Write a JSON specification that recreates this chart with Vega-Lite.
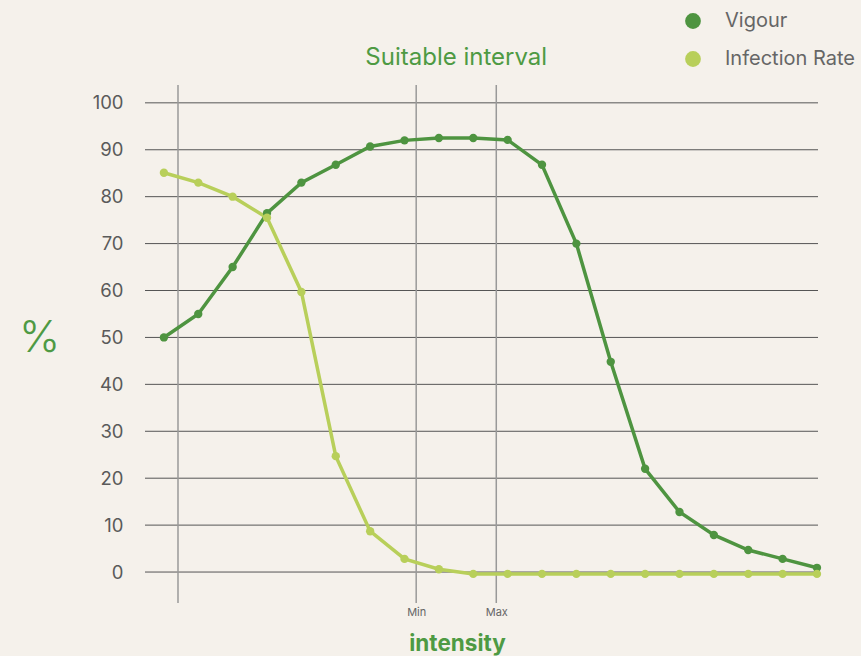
{
  "$schema": "https://vega.github.io/schema/vega-lite/v6.json",
  "autosize": "none",
  "width": 673,
  "height": 518,
  "padding": {"left": 145, "top": 85, "right": 43, "bottom": 53},
  "background": "#f5f1eb",
  "config": {"view": {"stroke": null}, "font": "Inter"},
  "datasets": {
    "series": [
      {"i": 0, "s": "Vigour", "v": 50}, {"i": 1, "s": "Vigour", "v": 55}, {"i": 2, "s": "Vigour", "v": 65},
      {"i": 3, "s": "Vigour", "v": 76.5}, {"i": 4, "s": "Vigour", "v": 83}, {"i": 5, "s": "Vigour", "v": 86.8},
      {"i": 6, "s": "Vigour", "v": 90.7}, {"i": 7, "s": "Vigour", "v": 92}, {"i": 8, "s": "Vigour", "v": 92.5},
      {"i": 9, "s": "Vigour", "v": 92.5}, {"i": 10, "s": "Vigour", "v": 92.1}, {"i": 11, "s": "Vigour", "v": 86.8},
      {"i": 12, "s": "Vigour", "v": 70}, {"i": 13, "s": "Vigour", "v": 44.8}, {"i": 14, "s": "Vigour", "v": 22},
      {"i": 15, "s": "Vigour", "v": 12.8}, {"i": 16, "s": "Vigour", "v": 7.9}, {"i": 17, "s": "Vigour", "v": 4.7},
      {"i": 18, "s": "Vigour", "v": 2.8}, {"i": 19, "s": "Vigour", "v": 0.9},
      {"i": 0, "s": "Infection Rate", "v": 85.1}, {"i": 1, "s": "Infection Rate", "v": 83}, {"i": 2, "s": "Infection Rate", "v": 80},
      {"i": 3, "s": "Infection Rate", "v": 75.5}, {"i": 4, "s": "Infection Rate", "v": 59.7}, {"i": 5, "s": "Infection Rate", "v": 24.7},
      {"i": 6, "s": "Infection Rate", "v": 8.7}, {"i": 7, "s": "Infection Rate", "v": 2.8}, {"i": 8, "s": "Infection Rate", "v": 0.6},
      {"i": 9, "s": "Infection Rate", "v": -0.4}, {"i": 10, "s": "Infection Rate", "v": -0.4}, {"i": 11, "s": "Infection Rate", "v": -0.4},
      {"i": 12, "s": "Infection Rate", "v": -0.4}, {"i": 13, "s": "Infection Rate", "v": -0.4}, {"i": 14, "s": "Infection Rate", "v": -0.4},
      {"i": 15, "s": "Infection Rate", "v": -0.4}, {"i": 16, "s": "Infection Rate", "v": -0.4}, {"i": 17, "s": "Infection Rate", "v": -0.4},
      {"i": 18, "s": "Infection Rate", "v": -0.4}, {"i": 19, "s": "Infection Rate", "v": -0.4}
    ],
    "hgrid": [{"y": 0}, {"y": 10}, {"y": 20}, {"y": 30}, {"y": 40}, {"y": 50}, {"y": 60}, {"y": 70}, {"y": 80}, {"y": 90}, {"y": 100}],
    "vlines": [{"x": 0.41}, {"x": 7.34}, {"x": 9.67}],
    "label": [{"x": 8.505, "y": 109.6, "t": "Suitable interval"}]
  },
  "layer": [
    {
      "data": {"name": "hgrid"},
      "mark": {"type": "rule", "color": "#555555", "strokeWidth": 1},
      "encoding": {
        "y": {"field": "y", "type": "quantitative", "scale": {"domain": [-6.6, 103.8], "nice": false, "zero": false},
          "axis": {"values": [0, 10, 20, 30, 40, 50, 60, 70, 80, 90, 100], "domain": false, "ticks": false, "grid": false, "labelPadding": 22, "labelFontSize": 18.5, "labelColor": "#5a5a5a", "labelFont": "Inter",
            "title": "%", "titleAngle": 0, "titleFontSize": 44, "titleFontWeight": 300, "titleColor": "#4e9a43", "titleFont": "Inter", "titleX": -106, "titleY": 253, "titleAlign": "center", "titleBaseline": "middle"}}
      }
    },
    {
      "data": {"name": "vlines"},
      "mark": {"type": "rule", "color": "#999999", "strokeWidth": 1.5},
      "encoding": {
        "x": {"field": "x", "type": "quantitative", "scale": {"domain": [-0.55, 19.03], "nice": false, "zero": false},
          "axis": {"values": [7.34, 9.67], "labelExpr": "datum.value < 8 ? 'Min' : 'Max'", "domain": false, "ticks": false, "grid": false, "labelPadding": 3, "labelFontSize": 11, "labelColor": "#666666", "labelFont": "Inter",
            "title": "intensity", "titleFontSize": 22.5, "titleFontWeight": "bold", "titleColor": "#4e9a43", "titleFont": "Inter", "titleX": 312, "titleY": 40, "titleBaseline": "middle", "titleAlign": "center"}}
      }
    },
    {
      "data": {"name": "label"},
      "mark": {"type": "text", "fontSize": 24, "color": "#4e9a43", "font": "Inter", "baseline": "middle", "align": "center", "clip": false},
      "encoding": {
        "x": {"field": "x", "type": "quantitative"},
        "y": {"field": "y", "type": "quantitative"},
        "text": {"field": "t"}
      }
    },
    {
      "data": {"name": "series"},
      "mark": {"type": "line", "strokeWidth": 3.5, "point": {"size": 70, "filled": true, "opacity": 1}},
      "encoding": {
        "x": {"field": "i", "type": "quantitative"},
        "y": {"field": "v", "type": "quantitative"},
        "color": {"field": "s", "type": "nominal", "sort": ["Vigour", "Infection Rate"],
          "scale": {"domain": ["Vigour", "Infection Rate"], "range": ["#4e9440", "#b8cf5a"]},
          "legend": {"orient": "none", "legendX": 538, "legendY": -74, "title": null, "symbolType": "circle", "symbolSize": 250, "symbolStrokeWidth": 0, "labelFontSize": 20, "labelColor": "#666666", "labelFont": "Inter", "rowPadding": 18, "labelOffset": 22}}
      }
    }
  ]
}
